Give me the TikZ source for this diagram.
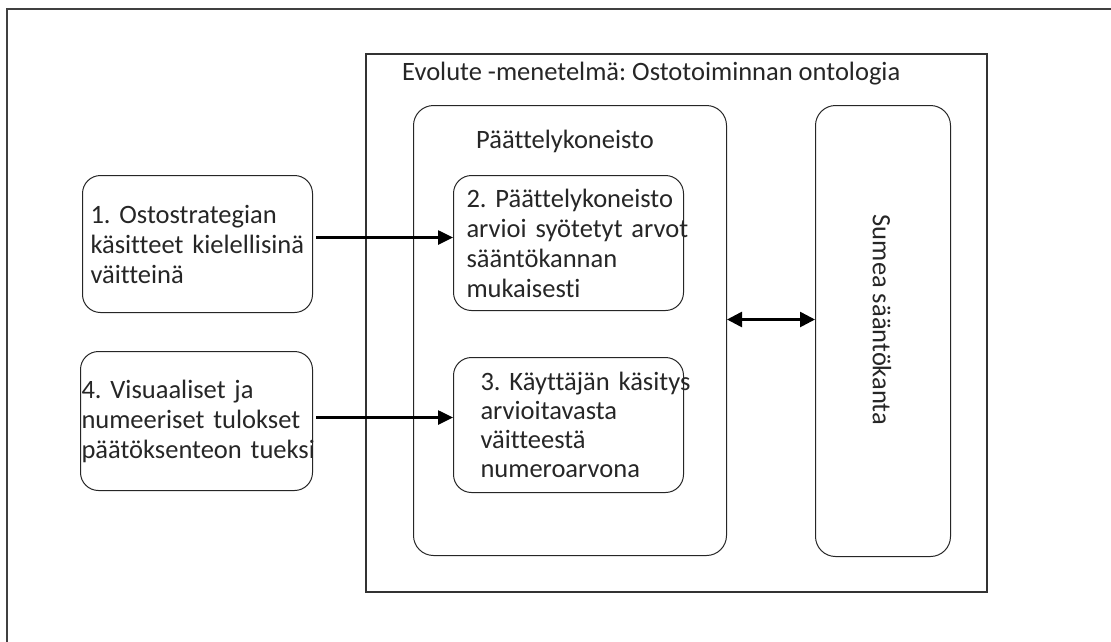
\documentclass[tikz,border=0pt]{standalone}
\usepackage{fontspec}
\setmainfont{Carlito}[Ligatures=NoCommon]
\usetikzlibrary{arrows.meta}
\frenchspacing
\begin{document}
\begin{tikzpicture}[x=1pt,y=-1pt,
  txt/.style={font=\fontsize{26.5}{30}\selectfont, text=black!85, inner sep=0pt},
  frame/.style={draw=black!80, anchor=north west, inner sep=0pt},
  roundbox/.style={draw=black!85, line width=1pt, rounded corners=18pt,
    anchor=north west, inner ysep=0pt, align=left,
    font=\fontsize{26.5}{30}\selectfont, text=black!85},
  link/.style={draw=black, line width=2.6pt, -{Triangle[length=15pt,width=14pt]}},
  twoway/.style={draw=black, line width=2.6pt,
    {Triangle[length=15pt,width=15pt]}-{Triangle[length=15pt,width=15pt]}},
]
\useasboundingbox (0,0) rectangle (1111,641);
\fill[white] (0,0) rectangle (1111,641);

% outer frame (runs off the page at right and bottom)
\draw[line width=2pt, black!75] (7,650) -- (7,9) -- (1120,9);

% method frame and its title
\node[frame, line width=1.6pt, minimum width=621pt, minimum height=538pt] (evo) at (365,53) {};
\node[txt, anchor=base west] (title) at (402,80) {Evolute -menetelmä: Ostotoiminnan ontologia};

% inference engine
\node[roundbox, rounded corners=20pt, inner xsep=0pt, minimum width=313pt, minimum height=450pt] (engine) at (413,105) {};
\node[txt, anchor=base] (enginelabel) at (565,148) {Päättelykoneisto};

% rule base
\node[roundbox, rounded corners=20pt, inner xsep=0pt, minimum width=135pt, minimum height=451pt] (rules) at (815,105) {};
\node[txt, rotate=-90] (rulestext) at (882,320) {Sumea sääntökanta};

% step boxes
\node[roundbox, inner xsep=8pt, text width=214pt, minimum height=137pt] (box1) at (82,175)
  {\mbox{1. Ostostrategian}\\\mbox{käsitteet kielellisinä}\\\mbox{väitteinä}};
\node[roundbox, inner xsep=13pt, text width=204pt, minimum height=135pt] (box2) at (453,175)
  {\mbox{2. Päättelykoneisto}\\\mbox{arvioi syötetyt arvot}\\\mbox{sääntökannan}\\\mbox{mukaisesti}};
\node[roundbox, inner xsep=27pt, text width=176pt, minimum height=135pt,
  font=\fontsize{26.5}{29}\selectfont] (box3) at (453,357)
  {\mbox{3. Käyttäjän käsitys}\\\mbox{arvioitavasta}\\\mbox{väitteestä}\\\mbox{numeroarvona}};
\node[roundbox, inner xsep=1pt, text width=230pt, minimum height=139pt] (box4) at (80,351)
  {\mbox{4. Visuaaliset ja}\\\mbox{numeeriset tulokset}\\\mbox{päätöksenteon tueksi}};

% connectors
\draw[link] ([xshift=3pt,yshift=6.5pt]box1.east) -- ([yshift=6.5pt]box1.east -| box2.west);
\draw[link] ([xshift=3pt,yshift=3.5pt]box4.east) -- ([yshift=3.5pt]box4.east -| box3.west);
\draw[twoway] ([yshift=11pt]engine.east) -- ([yshift=11pt]engine.east -| rules.west);
\end{tikzpicture}
\end{document}
